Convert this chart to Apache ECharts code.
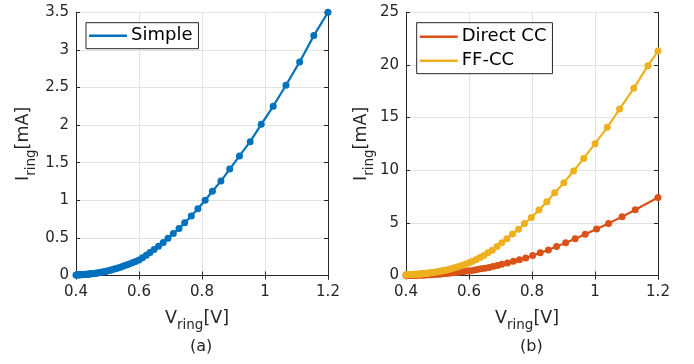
<!DOCTYPE html>
<html>
<head>
<meta charset="utf-8">
<script src="https://cdn.jsdelivr.net/npm/echarts@6/dist/echarts.min.js"></script>
<style>
html,body{margin:0;padding:0;background:#fff;}
#chart{width:694px;height:364px;}
</style>
</head>
<body>
<div id="chart"></div>
<script>
// ---- data ----
const simpleV = [1.2,1.155,1.110,1.0665,1.026,0.988,0.953,0.919,0.888,0.860,0.833,0.810,0.787,0.766,0.745,0.727,0.709,0.692,0.677,0.662,0.648,0.635,
 0.623,0.611,0.600,0.589,0.579,0.569,0.560,0.551,0.543,0.535,0.528,0.521,0.514,0.508,0.502,0.496,0.491,0.486,0.481,0.476,0.472,0.468,0.464,0.460,0.456,0.453,0.450,0.447,0.444,0.441,0.438,0.435,0.432,0.429,0.427,0.424,0.422,0.419,0.417,0.414,0.412,0.410,0.408,0.406,0.404,0.402,0.400];
const simpleI = [3.5,3.19,2.84,2.53,2.25,2.01,1.78,1.59,1.415,1.255,1.12,1.0,0.887,0.79,0.70,0.625,0.56,0.497,0.44,0.39,0.346,0.306,
 0.27,0.237,0.207,0.187,0.169,0.152,0.138,0.125,0.113,0.103,0.094,0.085,0.077,0.07,0.063,0.057,0.052,0.048,0.044,0.040,0.037,0.034,0.031,0.029,0.027,0.025,0.023,0.022,0.020,0.019,0.018,0.017,0.016,0.015,0.014,0.013,0.013,0.012,0.011,0.011,0.010,0.010,0.009,0.009,0.008,0.008,0.008];

const directV = [1.2,1.128,1.086,1.043,1.005,0.969,0.937,0.907,0.878,0.852,0.826,0.802,0.780,0.760,0.741,0.722,0.704,
 0.690,0.676,0.663,0.650,0.638,0.626,0.615,0.604,0.594,0.584,0.575,0.566,0.557,0.549,0.541,0.533,0.526,0.519,0.512,0.506,0.500,0.494,0.488,0.483,0.478,0.473,0.468,0.463,0.459,0.455,0.451,0.447,0.443,0.439,0.436,0.432,0.429,0.426,0.423,0.420,0.417,0.414,0.411,0.408,0.406,0.403,0.400];
const directI = [7.4,6.25,5.58,4.95,4.41,3.92,3.5,3.11,2.75,2.43,2.15,1.9,1.67,1.49,1.35,1.19,1.06,
 0.95,0.85,0.77,0.69,0.63,0.57,0.51,0.46,0.42,0.38,0.35,0.32,0.29,0.26,0.235,0.21,0.19,0.17,0.15,0.14,0.125,0.11,0.10,0.09,0.08,0.075,0.068,0.062,0.056,0.051,0.047,0.043,0.039,0.036,0.033,0.030,0.028,0.026,0.024,0.022,0.020,0.019,0.017,0.016,0.015,0.014,0.013];

const ffV = [1.2,1.168,1.123,1.078,1.039,1.0,0.964,0.932,0.901,0.872,0.847,0.822,0.798,0.776,0.757,0.738,0.720,0.704,0.689,0.674,0.660,0.647,
 0.635,0.623,0.611,0.600,0.589,0.579,0.569,0.560,0.551,0.543,0.535,0.528,0.521,0.514,0.508,0.502,0.496,0.491,0.486,0.481,0.476,0.472,0.468,0.464,0.460,0.456,0.453,0.450,0.447,0.444,0.441,0.438,0.435,0.432,0.429,0.427,0.424,0.422,0.419,0.417,0.414,0.412,0.410,0.408,0.406,0.404,0.402,0.400];
const ffI = [21.32,19.93,17.78,15.81,14.07,12.52,11.12,9.92,8.81,7.86,7.0,6.21,5.51,4.94,4.40,3.93,3.49,3.1,2.76,2.41,2.15,1.9,
 1.70,1.52,1.36,1.22,1.09,0.98,0.88,0.79,0.71,0.64,0.58,0.53,0.48,0.44,0.40,0.37,0.34,0.31,0.29,0.27,0.25,0.23,0.22,0.20,0.19,0.18,0.17,0.16,0.15,0.145,0.14,0.13,0.125,0.12,0.115,0.11,0.105,0.10,0.10,0.095,0.09,0.09,0.085,0.085,0.08,0.08,0.08,0.075];

const xTicks = [0.4,0.6,0.8,1,1.2];
const yTicksA = [0,0.5,1,1.5,2,2.5,3,3.5];
const yTicksB = [0,5,10,15,20,25];
const legendA = ['Simple'];
const legendB = ['Direct CC','FF-CC'];
const panelLabels = ['(a)','(b)'];

// ---- styling ----
const FONT = 'DejaVu Sans';
const TXT = '#262626';
const AX = '#262626';
const GRIDC = '#e3e3e3';
const C_BLUE = '#0072BD', C_RED = '#D95319', C_YEL = '#EDB120';

const pairs = (xs, ys) => xs.map((x, i) => [x, ys[i]]);
const step = t => t[1] - t[0];
// label text taken from the tick arrays (avoids float artefacts)
const tickFmt = ticks => v => {
  let best = ticks[0];
  ticks.forEach(t => { if (Math.abs(t - v) < Math.abs(best - v)) best = t; });
  return String(best);
};
const nameRich = {
  a: {fontFamily: FONT, fontSize: 17.5, color: TXT},
  b: {fontFamily: FONT, fontSize: 13.5, color: TXT, padding: [15, 0, 0, 0]}
};

function xAxes(gi) {
  const base = {gridIndex: gi, type: 'value', min: xTicks[0], max: xTicks[xTicks.length-1], interval: step(xTicks)};
  return [
    Object.assign({}, base, {
      position: 'bottom',
      axisLine: {show: true, lineStyle: {color: AX, width: 1}},
      axisTick: {show: true, inside: true, length: 4, lineStyle: {color: AX}},
      axisLabel: {show: true, margin: 9, fontFamily: FONT, fontSize: 15, color: TXT, formatter: tickFmt(xTicks)},
      splitLine: {show: true, lineStyle: {color: GRIDC, width: 1}},
      name: '{a|V}{b|ring}{a|[V]}',
      nameLocation: 'middle',
      nameGap: 28,
      nameTextStyle: {padding: [0, 10, 0, 0], rich: nameRich}
    }),
    Object.assign({}, base, {
      position: 'top',
      axisLine: {show: true, lineStyle: {color: AX, width: 1}},
      axisTick: {show: true, inside: true, length: 4, lineStyle: {color: AX}},
      axisLabel: {show: false}, splitLine: {show: false}
    })
  ];
}
function yAxes(gi, ticks, gap) {
  const base = {gridIndex: gi, type: 'value', min: ticks[0], max: ticks[ticks.length-1], interval: step(ticks)};
  return [
    Object.assign({}, base, {
      position: 'left',
      axisLine: {show: true, lineStyle: {color: AX, width: 1}},
      axisTick: {show: true, inside: true, length: 4, lineStyle: {color: AX}},
      axisLabel: {show: true, margin: 7, fontFamily: FONT, fontSize: 15, color: TXT, formatter: tickFmt(ticks)},
      splitLine: {show: true, lineStyle: {color: GRIDC, width: 1}},
      name: '{a|I}{b|ring}{a|[mA]}',
      nameLocation: 'middle',
      nameGap: gap,
      nameRotate: 90,
      nameTextStyle: {rich: nameRich}
    }),
    Object.assign({}, base, {
      position: 'right',
      axisLine: {show: true, lineStyle: {color: AX, width: 1}},
      axisTick: {show: true, inside: true, length: 4, lineStyle: {color: AX}},
      axisLabel: {show: false}, splitLine: {show: false}
    })
  ];
}
function lineSeries(name, xi, yi, data, color) {
  return {
    name, type: 'line', xAxisIndex: xi, yAxisIndex: yi, data,
    symbol: 'circle', symbolSize: 7, showAllSymbol: true,
    lineStyle: {color, width: 2.2}, itemStyle: {color},
    emphasis: {disabled: true}, z: 3
  };
}
const legendCommon = {
  orient: 'vertical', icon: 'rect', itemWidth: 38, itemHeight: 2.5, itemGap: 4,
  backgroundColor: '#fff', borderColor: AX, borderWidth: 1,
  textStyle: {fontFamily: FONT, fontSize: 18, color: '#000', lineHeight: 20, padding: [0,0,0,-1]},
  selectedMode: false
};

const chart = echarts.init(document.getElementById('chart'), null, {renderer: 'canvas'});
chart.setOption({
  animation: false,
  backgroundColor: '#fff',
  grid: [
    {left: 76, top: 12.3, width: 252, height: 263.2},
    {left: 406, top: 12.3, width: 252, height: 263.2}
  ],
  xAxis: [...xAxes(0), ...xAxes(1)],
  yAxis: [...yAxes(0, yTicksA, 38), ...yAxes(1, yTicksB, 30)],
  legend: [
    Object.assign({}, legendCommon, {data: legendA, left: 86, top: 22.7, padding: [3, 6, 3, 3]}),
    Object.assign({}, legendCommon, {data: legendB, left: 416.7, top: 22.7, padding: [4, 6, 3, 3]})
  ],
  series: [
    lineSeries(legendA[0], 0, 0, pairs(simpleV, simpleI), C_BLUE),
    lineSeries(legendB[0], 2, 2, pairs(directV, directI), C_RED),
    lineSeries(legendB[1], 2, 2, pairs(ffV, ffI), C_YEL)
  ],
  graphic: [
    {type: 'text', left: 201 - 11, top: 339, style: {text: panelLabels[0], font: '16px "DejaVu Sans"', fill: TXT}},
    {type: 'text', left: 531.5 - 11.5, top: 339, style: {text: panelLabels[1], font: '16px "DejaVu Sans"', fill: TXT}}
  ]
});
</script>
</body>
</html>
